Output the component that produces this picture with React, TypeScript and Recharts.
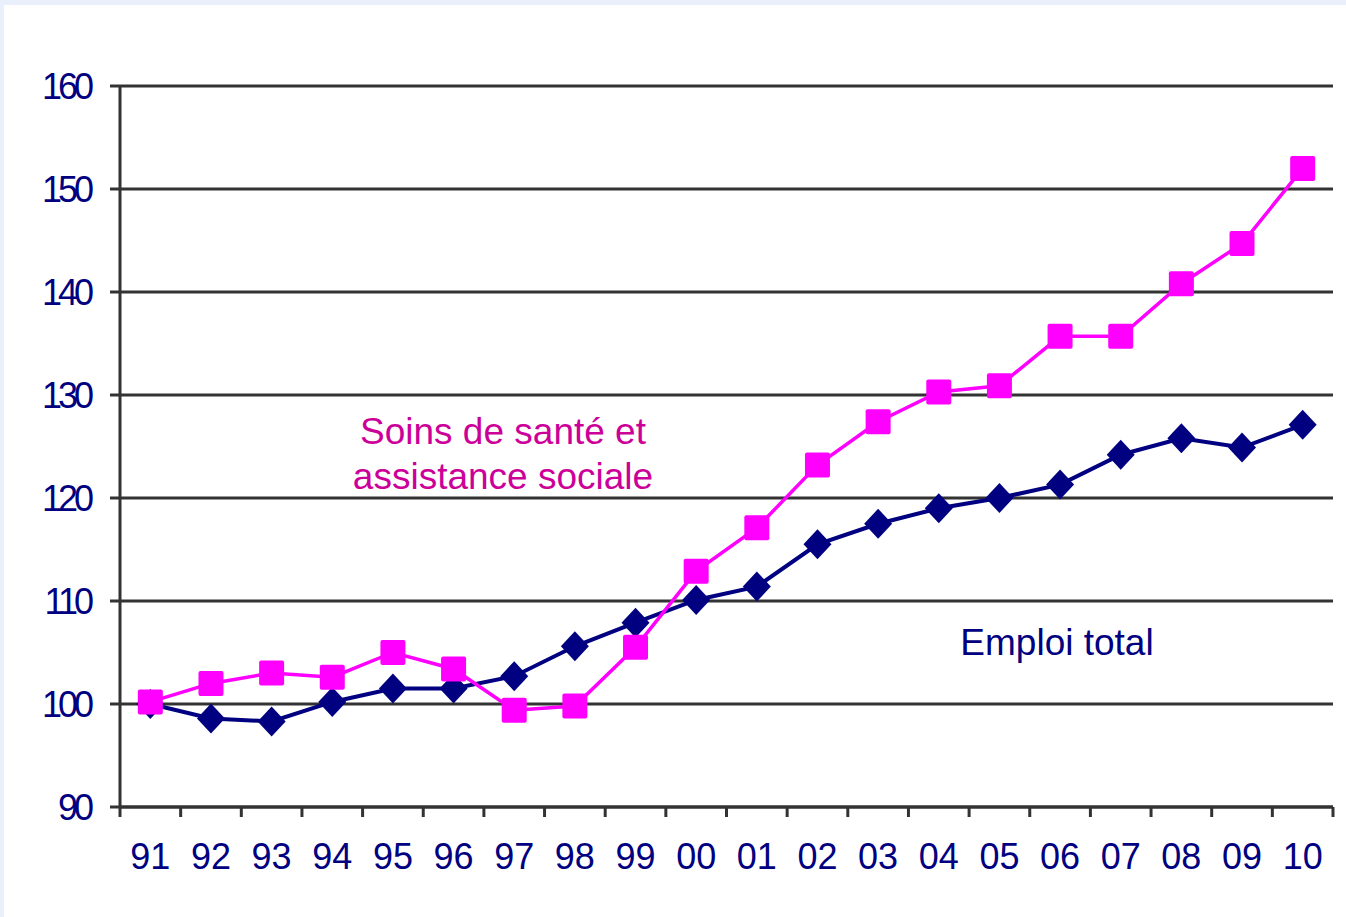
import React from 'react';
import { LineChart, Line, XAxis, YAxis, CartesianGrid } from 'recharts';

const YEARS = ['91', '92', '93', '94', '95', '96', '97', '98', '99', '00', '01', '02', '03', '04', '05', '06', '07', '08', '09', '10'];
const EMPLOI_TOTAL = [100, 98.6, 98.3, 100.2, 101.5, 101.5, 102.7, 105.6, 107.9, 110.1, 111.4, 115.5, 117.5, 119.0, 120.0, 121.3, 124.2, 125.8, 124.9, 127.1];
const SOINS_SANTE = [100.2, 102.0, 103.0, 102.6, 105.0, 103.4, 99.4, 99.8, 105.5, 112.9, 117.1, 123.2, 127.4, 130.3, 130.9, 135.7, 135.7, 140.8, 144.7, 152.0];
const Y_TICKS = [90, 100, 110, 120, 130, 140, 150, 160];

const W = 1346;
const H = 917;
const PLOT_LEFT = 120;
const PLOT_RIGHT = 1333;
const PLOT_TOP = 86;
const PLOT_BOTTOM = 807;
const BAND = (PLOT_RIGHT - PLOT_LEFT) / YEARS.length;

const NAVY = '#000080';
const MAGENTA = '#ff00ff';
const GRID = '#333333';
const FONT = '"Liberation Sans", Arial, sans-serif';

const data = YEARS.map((year, i) => ({
  x: i + 0.5,
  year,
  emploi: EMPLOI_TOTAL[i],
  soins: SOINS_SANTE[i],
}));

const Square = ({ cx, cy }: any) => (
  <rect x={cx - 12.5} y={cy - 12.5} width={25} height={25} rx={2} fill={MAGENTA} />
);

const Diamond = ({ cx, cy }: any) => (
  <polygon points={`${cx},${cy - 15} ${cx + 14},${cy} ${cx},${cy + 15} ${cx - 14},${cy}`} fill={NAVY} />
);

const XTick = ({ x, y, payload }: any) => {
  const i = payload.value;
  if (i >= YEARS.length) return null;
  return (
    <text x={x + BAND / 2} y={y + 50} textAnchor="middle" fill={NAVY} fontSize={36} fontFamily={FONT}>
      {YEARS[i]}
    </text>
  );
};

export default function App() {
  return (
    <div style={{ position: 'fixed', left: 0, top: 0, width: W, height: H, background: '#e9effb' }}>
      <div style={{ position: 'absolute', left: 4, top: 5, right: 0, bottom: 0, background: '#ffffff' }} />
      <div style={{ position: 'absolute', left: 0, top: 0 }}>
        <LineChart
          width={W}
          height={H}
          data={data}
          margin={{ top: PLOT_TOP, right: W - PLOT_RIGHT, bottom: 0, left: 0 }}
        >
          <CartesianGrid horizontal vertical={false} stroke={GRID} strokeWidth={3} />
          <XAxis
            dataKey="x"
            type="number"
            domain={[0, YEARS.length]}
            ticks={YEARS.map((_, i) => i).concat([YEARS.length])}
            interval={0}
            height={H - PLOT_BOTTOM}
            axisLine={{ stroke: GRID, strokeWidth: 3 }}
            tickLine={{ stroke: GRID, strokeWidth: 3 }}
            tickSize={10}
            tick={<XTick />}
          />
          <YAxis
            type="number"
            domain={[90, 160]}
            ticks={Y_TICKS}
            interval={0}
            width={PLOT_LEFT}
            axisLine={{ stroke: GRID, strokeWidth: 3 }}
            tickLine={{ stroke: GRID, strokeWidth: 3 }}
            tickSize={10}
            tickMargin={20}
            tick={{ fill: NAVY, fontSize: 36, fontFamily: FONT, letterSpacing: -4 }}
          />
          <Line
            dataKey="emploi"
            stroke={NAVY}
            strokeWidth={4}
            dot={<Diamond />}
            activeDot={false}
            isAnimationActive={false}
          />
          <Line
            dataKey="soins"
            stroke={MAGENTA}
            strokeWidth={3.5}
            dot={<Square />}
            activeDot={false}
            isAnimationActive={false}
          />
        </LineChart>
      </div>
      <div
        style={{
          position: 'absolute',
          left: 303,
          top: 409,
          width: 400,
          textAlign: 'center',
          color: '#cc0099',
          fontFamily: FONT,
          fontSize: 37,
          lineHeight: '45px',
        }}
      >
        Soins de santé et
        <br />
        assistance sociale
      </div>
      <div
        style={{
          position: 'absolute',
          left: 907,
          top: 620,
          width: 300,
          textAlign: 'center',
          color: NAVY,
          fontFamily: FONT,
          fontSize: 37,
          lineHeight: '45px',
        }}
      >
        Emploi total
      </div>
    </div>
  );
}
